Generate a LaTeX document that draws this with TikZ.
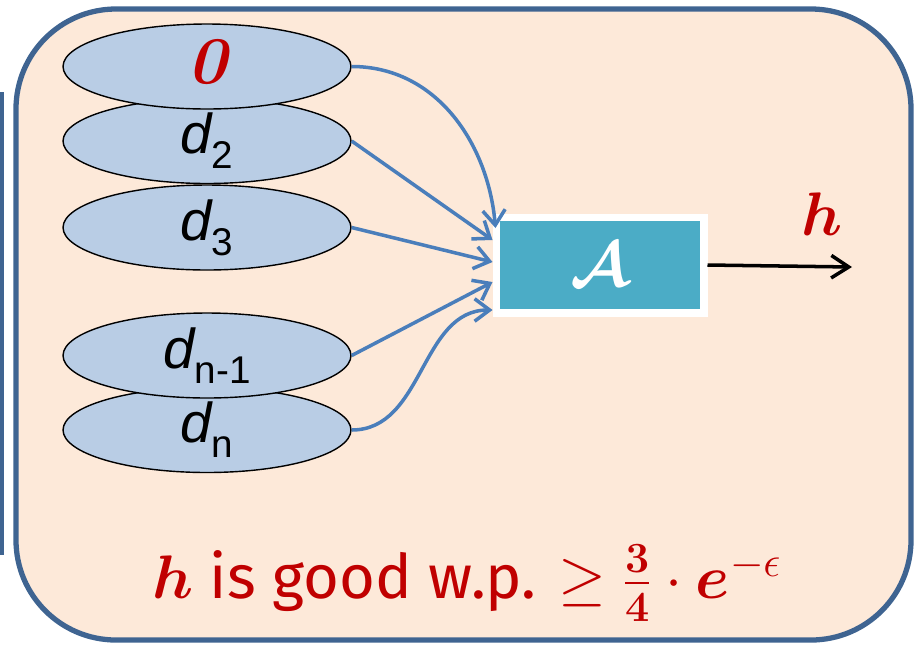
\RequirePackage{fix-cm}
\documentclass[tikz,border=0pt]{standalone}
\usepackage{amsmath,amssymb}
\usepackage{fontspec}
\usepackage{tikz}
\usetikzlibrary{positioning, arrows.meta, shapes.geometric, shadows}
\newfontfamily\arialfont{Liberation Sans}
\newfontfamily\notefont{Fira Sans}
\definecolor{frame}{HTML}{3F6491}
\definecolor{paper}{HTML}{FDE9D9}
\definecolor{blobfill}{HTML}{B9CDE5}
\definecolor{algfill}{HTML}{4BACC6}
\definecolor{wire}{HTML}{4A7EBB}
\definecolor{alert}{HTML}{C00000}
\newcommand{\dsub}[1]{{\itshape d}\raisebox{-8.5pt}{\fontsize{22}{22}\selectfont #1}}

\begin{document}
\begin{tikzpicture}[x=0.02cm, y=-0.02cm,
  sample/.style={ellipse, draw, line width=0.8pt, fill=blobfill, minimum width=5.76cm, minimum height=1.7cm, inner sep=0pt, font=\arialfont\fontsize{32}{32}\selectfont},
  algbox/.style={draw=white, line width=4pt, fill=algfill, minimum width=4.16cm, minimum height=1.92cm, inner sep=0pt, text=white, font=\fontsize{36}{36}\selectfont, drop shadow={opacity=0.35, shadow xshift=0.04cm, shadow yshift=-0.06cm}},
  feed/.style={-{Straight Barb[length=3mm, width=4.5mm]}, line width=2pt, color=wire},
  result/.style={-{Straight Barb[length=3.5mm, width=4.5mm]}, line width=2pt, color=black}
]
  \useasboundingbox (0,0) rectangle (916,647);
  \draw[line width=3pt, frame] (1,92) -- (1,555);
  \draw[line width=3pt, frame, fill=paper, rounded corners=2cm] (16,9) rectangle (911,640);

  \node[sample] (d2) at (207,141) {\dsub{2}};
  \node[sample] (zero) at (207,66.5) {\raisebox{0.2cm}{\rmfamily\bfseries\itshape\fontsize{38}{38}\selectfont\color{alert}0}};
  \node[sample] (d3) at (207,227.5) {\dsub{3}};
  \node[sample] (dn) at (207,430) {\dsub{n}};
  \node[sample] (dn1) at (207,355.5) {\dsub{n-1}};

  \node[algbox] (alg) at (600,265) {$\boldsymbol{\mathcal{A}}$};
  \coordinate (out) at (852,267);
  \node[text=alert, font=\fontsize{35}{35}\selectfont] (hlab) at (822,214) {$\boldsymbol{h}$};

  \draw[feed] (zero.east) to[out=0, in=95] ([xshift=0.06cm, yshift=0.74cm]alg.west);
  \draw[feed] (d2.east) -- ([yshift=0.5cm]alg.west);
  \draw[feed] (d3.east) -- ([yshift=0.06cm]alg.west);
  \draw[feed] (dn1.east) -- ([yshift=-0.34cm]alg.west);
  \draw[feed] (dn.east) to[out=0, in=180] ([yshift=-0.9cm]alg.west);
  \draw[result] (alg.east) -- (out);

  \node[text=alert, font=\notefont\fontsize{35}{38}\selectfont] (claim) at (467,583) {$\boldsymbol{h}$ is good w.p. $\geq \boldsymbol{\tfrac{3}{4}}\cdot \boldsymbol{e}^{-\epsilon}$};
\end{tikzpicture}
\end{document}
